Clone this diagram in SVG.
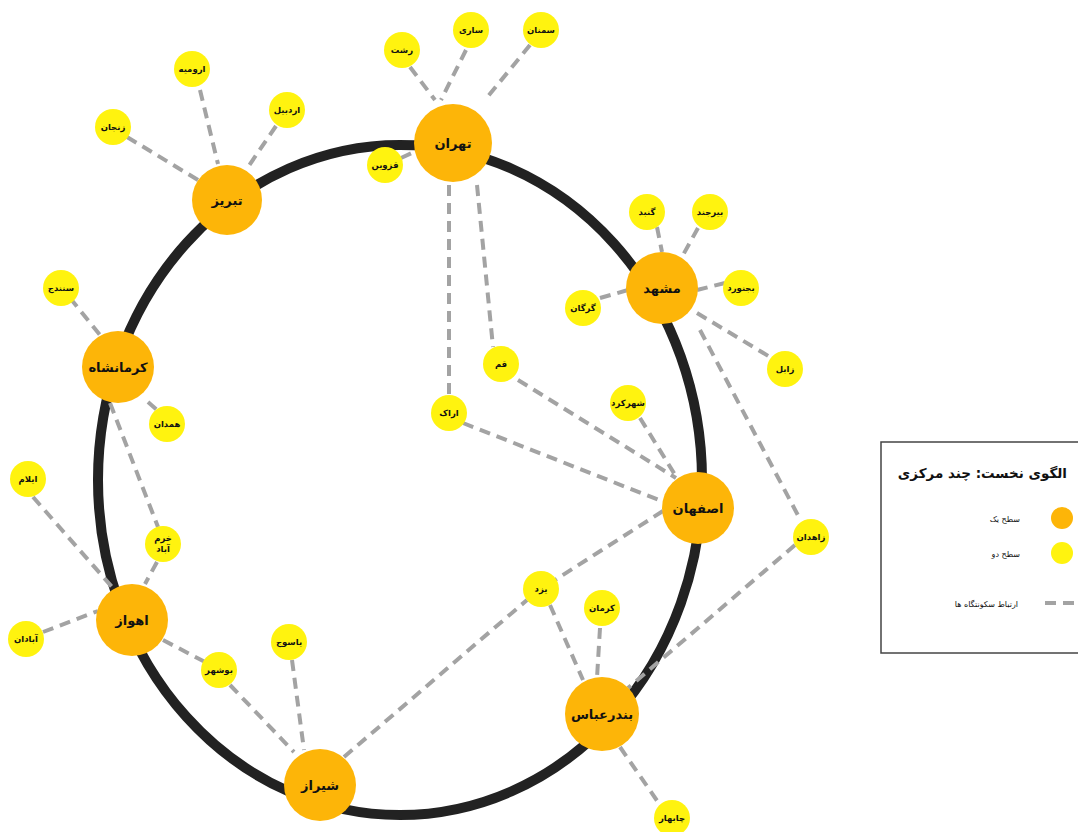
<svg xmlns="http://www.w3.org/2000/svg" width="1078" height="832" viewBox="0 0 1078 832">
<style>
.c{stroke:#a3a3a3;stroke-width:4;stroke-dasharray:11 7;fill:none}
.o{fill:#FDB508}
.y{fill:#FFF30F}
.lo{font-family:"DejaVu Sans",sans-serif;font-weight:bold;font-size:13px;fill:#111;text-anchor:middle}
.ly{font-family:"DejaVu Sans",sans-serif;font-weight:bold;font-size:8.5px;fill:#111;text-anchor:middle}
.lg{font-family:"DejaVu Sans",sans-serif;font-size:8px;fill:#111;text-anchor:end}
</style>
<rect width="1078" height="832" fill="#fff"/>
<ellipse id="ring" cx="400" cy="480" rx="302" ry="335" fill="none" stroke="#222" stroke-width="10"/>
<g id="connectors">
<line class="c" x1="410" y1="67" x2="435" y2="100"/>
<line class="c" x1="466" y1="50" x2="441" y2="100"/>
<line class="c" x1="530" y1="45" x2="485" y2="100"/>
<line class="c" x1="401" y1="158" x2="416" y2="151"/>
<line class="c" x1="449" y1="185" x2="449" y2="396"/>
<line class="c" x1="477" y1="185" x2="493" y2="347"/>
<line class="c" x1="200" y1="90" x2="218" y2="164"/>
<line class="c" x1="276" y1="126" x2="246" y2="170"/>
<line class="c" x1="127" y1="137" x2="198" y2="180"/>
<line class="c" x1="657" y1="227" x2="662" y2="252"/>
<line class="c" x1="698" y1="228" x2="683" y2="255"/>
<line class="c" x1="725" y1="283" x2="697" y2="290"/>
<line class="c" x1="600" y1="298" x2="628" y2="290"/>
<line class="c" x1="697" y1="313" x2="770" y2="357"/>
<line class="c" x1="700" y1="330" x2="801" y2="521"/>
<line class="c" x1="518" y1="380" x2="676" y2="478"/>
<line class="c" x1="463" y1="423" x2="664" y2="502"/>
<line class="c" x1="640" y1="418" x2="677" y2="478"/>
<line class="c" x1="663" y1="511" x2="555" y2="580"/>
<line class="c" x1="795" y1="545" x2="628" y2="688"/>
<line class="c" x1="344" y1="757" x2="527" y2="600"/>
<line class="c" x1="550" y1="605" x2="583" y2="680"/>
<line class="c" x1="600" y1="628" x2="597" y2="678"/>
<line class="c" x1="620" y1="747" x2="660" y2="805"/>
<line class="c" x1="230" y1="685" x2="294" y2="752"/>
<line class="c" x1="292" y1="660" x2="304" y2="750"/>
<line class="c" x1="33" y1="497" x2="112" y2="587"/>
<line class="c" x1="157" y1="562" x2="145" y2="584"/>
<line class="c" x1="43" y1="632" x2="98" y2="611"/>
<line class="c" x1="163" y1="640" x2="205" y2="662"/>
<line class="c" x1="70" y1="298" x2="100" y2="335"/>
<line class="c" x1="148" y1="402" x2="158" y2="411"/>
<line class="c" x1="110" y1="403" x2="158" y2="527"/>
</g>
<g id="n-tehran"><circle class="o" cx="453" cy="143" r="39"/><text class="lo" x="453" y="148">تهران</text></g>
<g id="n-tabriz"><circle class="o" cx="227" cy="200" r="35"/><text class="lo" x="227" y="205">تبریز</text></g>
<g id="n-mashhad"><circle class="o" cx="662" cy="288" r="36"/><text class="lo" x="662" y="293">مشهد</text></g>
<g id="n-kermanshah"><circle class="o" cx="118" cy="367" r="36"/><text class="lo" x="118" y="372">کرمانشاه</text></g>
<g id="n-ahvaz"><circle class="o" cx="132" cy="620" r="36"/><text class="lo" x="132" y="625">اهواز</text></g>
<g id="n-isfahan"><circle class="o" cx="698" cy="508" r="36"/><text class="lo" x="698" y="513">اصفهان</text></g>
<g id="n-shiraz"><circle class="o" cx="320" cy="785" r="36"/><text class="lo" x="320" y="790">شیراز</text></g>
<g id="n-bandarabbas"><circle class="o" cx="602" cy="714" r="37"/><text class="lo" x="602" y="719">بندرعباس</text></g>
<g id="n-rasht"><circle class="y" cx="402" cy="50" r="18"/><text class="ly" x="402" y="53">رشت</text></g>
<g id="n-sari"><circle class="y" cx="471" cy="30" r="18"/><text class="ly" x="471" y="33">ساری</text></g>
<g id="n-semnan"><circle class="y" cx="541" cy="30" r="18"/><text class="ly" x="541" y="33">سمنان</text></g>
<g id="n-qazvin"><circle class="y" cx="385" cy="165" r="18"/><text class="ly" x="385" y="168">قزوین</text></g>
<g id="n-urmia"><circle class="y" cx="192" cy="69" r="18"/><text class="ly" x="192" y="72">ارومیه</text></g>
<g id="n-ardabil"><circle class="y" cx="287" cy="110" r="18"/><text class="ly" x="287" y="113">اردبیل</text></g>
<g id="n-zanjan"><circle class="y" cx="113" cy="127" r="18"/><text class="ly" x="113" y="130">زنجان</text></g>
<g id="n-gonbad"><circle class="y" cx="647" cy="212" r="18"/><text class="ly" x="647" y="215">گنبد</text></g>
<g id="n-birjand"><circle class="y" cx="710" cy="212" r="18"/><text class="ly" x="710" y="215">بیرجند</text></g>
<g id="n-bojnurd"><circle class="y" cx="741" cy="288" r="18"/><text class="ly" x="741" y="291">بجنورد</text></g>
<g id="n-gorgan"><circle class="y" cx="583" cy="308" r="18"/><text class="ly" x="583" y="311">گرگان</text></g>
<g id="n-zabol"><circle class="y" cx="785" cy="369" r="18"/><text class="ly" x="785" y="372">زابل</text></g>
<g id="n-shahrekord"><circle class="y" cx="628" cy="403" r="18"/><text class="ly" x="628" y="406">شهرکرد</text></g>
<g id="n-qom"><circle class="y" cx="501" cy="364" r="18"/><text class="ly" x="501" y="367">قم</text></g>
<g id="n-arak"><circle class="y" cx="449" cy="413" r="18"/><text class="ly" x="449" y="416">اراک</text></g>
<g id="n-zahedan"><circle class="y" cx="811" cy="537" r="18"/><text class="ly" x="811" y="540">زاهدان</text></g>
<g id="n-sanandaj"><circle class="y" cx="61" cy="288" r="18"/><text class="ly" x="61" y="291">سنندج</text></g>
<g id="n-hamedan"><circle class="y" cx="167" cy="424" r="18"/><text class="ly" x="167" y="427">همدان</text></g>
<g id="n-ilam"><circle class="y" cx="28" cy="479" r="18"/><text class="ly" x="28" y="482">ایلام</text></g>
<g id="n-khorramabad"><circle class="y" cx="163" cy="544" r="18"/><text class="ly" x="163" y="541">خرم</text><text class="ly" x="163" y="552">آباد</text></g>
<g id="n-abadan"><circle class="y" cx="26" cy="639" r="18"/><text class="ly" x="26" y="642">آبادان</text></g>
<g id="n-bushehr"><circle class="y" cx="219" cy="670" r="18"/><text class="ly" x="219" y="673">بوشهر</text></g>
<g id="n-yasuj"><circle class="y" cx="289" cy="642" r="18"/><text class="ly" x="289" y="645">یاسوج</text></g>
<g id="n-yazd"><circle class="y" cx="541" cy="589" r="18"/><text class="ly" x="541" y="592">یزد</text></g>
<g id="n-kerman"><circle class="y" cx="602" cy="608" r="18"/><text class="ly" x="602" y="611">کرمان</text></g>
<g id="n-chabahar"><circle class="y" cx="672" cy="818" r="18"/><text class="ly" x="672" y="821">چابهار</text></g>
<g id="legend">
<rect x="881" y="442" width="205" height="211" fill="#fff" stroke="#444" stroke-width="1.5"/>
<text x="1067" y="478" font-family="DejaVu Sans,sans-serif" font-weight="bold" font-size="13.5" fill="#111" text-anchor="end">الگوی نخست: چند مرکزی</text>
<circle class="o" cx="1062" cy="518" r="11"/>
<text class="lg" x="1020" y="522">سطح یک</text>
<circle class="y" cx="1062" cy="553" r="11"/>
<text class="lg" x="1020" y="557">سطح دو</text>
<line class="c" x1="1045" y1="603" x2="1080" y2="603" stroke-width="3"/>
<text class="lg" x="1018" y="607">ارتباط سکونتگاه ها</text>
</g>
</svg>
